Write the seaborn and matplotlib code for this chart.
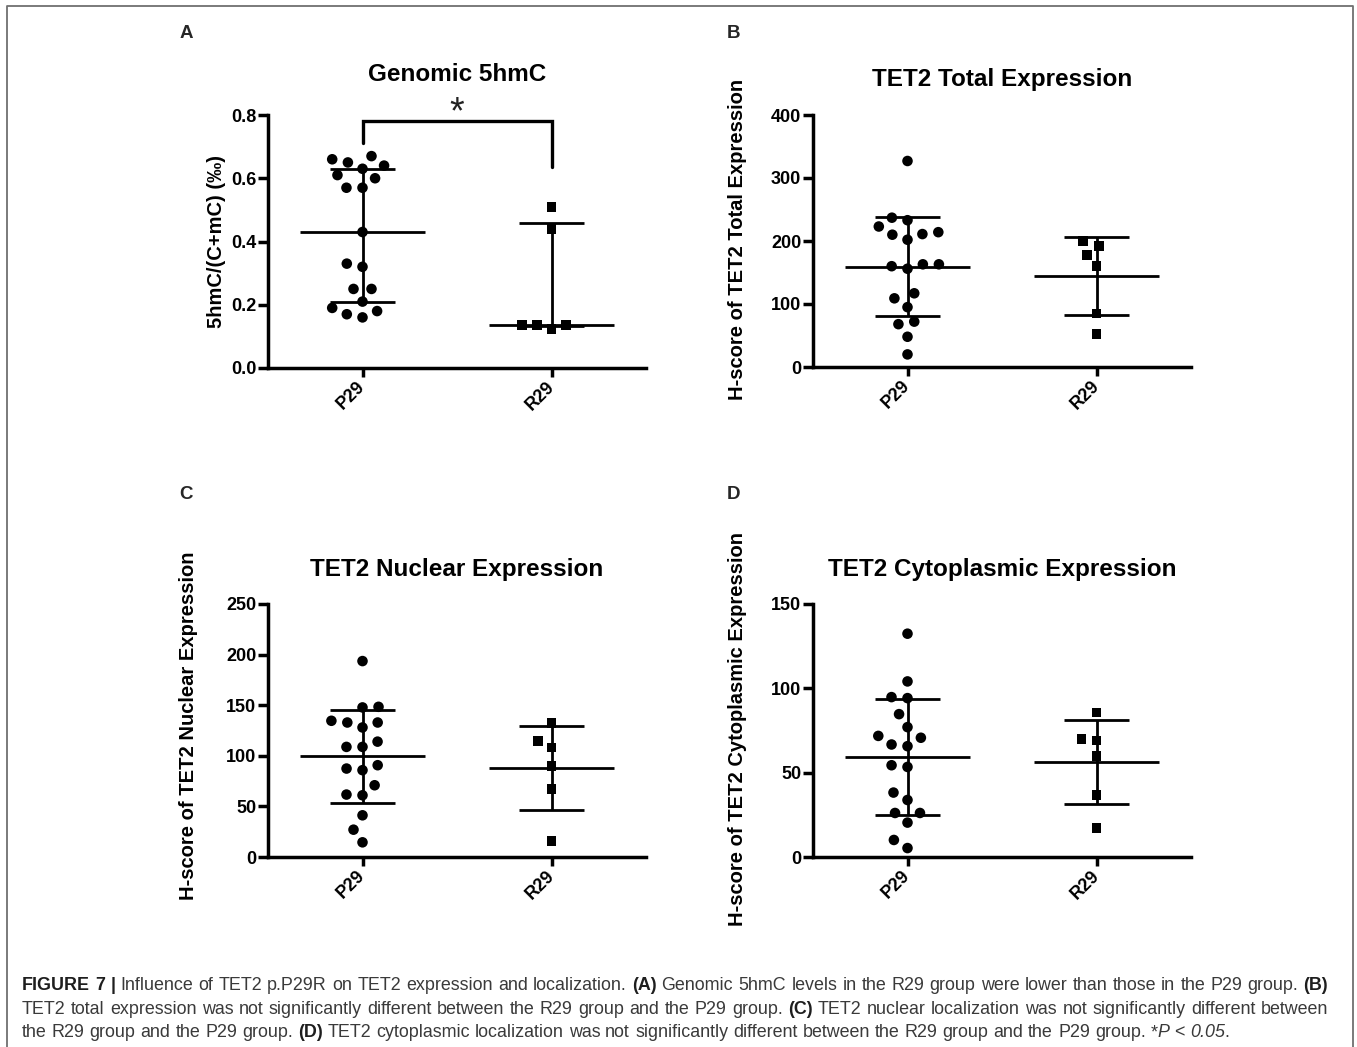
import numpy as np
import pandas as pd
import matplotlib
matplotlib.use("Agg")
import matplotlib.pyplot as plt
import seaborn as sns
from matplotlib.lines import Line2D
from matplotlib.ticker import FormatStrFormatter

# ---------------- data ----------------
groups = ["P29", "R29"]

hmc_p29 = [0.66, 0.64, 0.63, 0.65, 0.67, 0.60, 0.61, 0.57, 0.57, 0.43,
           0.32, 0.33, 0.25, 0.25, 0.21, 0.18, 0.19, 0.16, 0.17]
hmc_r29 = [0.51, 0.44, 0.137, 0.124, 0.137, 0.137]

total_p29 = [327, 237, 233, 223, 211, 202, 210, 214, 163, 160,
             156, 163, 117, 109, 95, 68, 72, 48, 20]
total_r29 = [200, 192, 178, 160, 85, 52]

nuclear_p29 = [193.6, 147.8, 148.4, 134.6, 132.9, 128, 132.9, 114, 108.8, 108.8,
               87.4, 85.8, 90.7, 70.9, 61, 61.7, 41.2, 27, 14.5]
nuclear_r29 = [132.6, 114.4, 108.2, 89.7, 67.3, 15.5]

cyto_p29 = [132.4, 104.1, 94.2, 94.8, 84.7, 77, 70.7, 71.8, 65.7, 66.7,
            54.4, 53.4, 38.2, 33.8, 26.1, 26.1, 20.4, 10.1, 5.3]
cyto_r29 = [85.7, 69.9, 69.1, 59.8, 36.6, 17.4]

titles = ["Genomic 5hmC", "TET2 Total Expression",
          "TET2 Nuclear Expression", "TET2 Cytoplasmic Expression"]
ylabels = ["5hmC/(C+mC) (‰)", "H-score of TET2 Total Expression",
           "H-score of TET2 Nuclear Expression", "H-score of TET2 Cytoplasmic Expression"]
panel_letters = ["A", "B", "C", "D"]
y_max = [0.8, 400, 250, 150]
y_step = [0.2, 100, 50, 50]
y_fmt = ["%.1f", "%d", "%d", "%d"]
summary_kind = ["median_iqr", "mean_sd", "mean_sd", "mean_sd"]
sig_label = "*"

caption_lines = [
    [("FIGURE 7 |", "b"), (" Influence of TET2 p.P29R on TET2 expression and localization. ", "n"),
     ("(A)", "b"), (" Genomic 5hmC levels in the R29 group were lower than those in the P29 group. ", "n"),
     ("(B)", "b")],
    [("TET2 total expression was not significantly different between the R29 group and the P29 group. ", "n"),
     ("(C)", "b"), (" TET2 nuclear localization was not significantly different between", "n")],
    [("the R29 group and the P29 group. ", "n"), ("(D)", "b"),
     (" TET2 cytoplasmic localization was not significantly different between the R29 group and the P29 group. *", "n"),
     ("P", "i"), (" < ", "n"), ("0.05", "i"), (".", "n")],
]

# ---------------- style ----------------
sns.set_style("ticks")
plt.rcParams["font.family"] = ["Liberation Sans", "DejaVu Sans"]

W, H = 1357, 1047
fig = plt.figure(figsize=(W / 100, H / 100), dpi=100)
fig.patch.set_facecolor("white")

# axes boxes in pixels: left, top(ymax), right, bottom(0)
boxes = [(268, 115, 646, 368), (813, 115, 1191, 367),
         (268, 604, 646, 857), (813, 604, 1191, 857)]
title_pad = [24.5, 21, 20, 20]
ylabel_pos = [(-0.135, 0.5), (-0.201, 0.508), (-0.21, 0.52), (-0.201, 0.506)]
letter_pos = [(186, 33), (733, 33), (186, 495), (733, 495)]

data_sets = [(hmc_p29, hmc_r29), (total_p29, total_r29),
             (nuclear_p29, nuclear_r29), (cyto_p29, cyto_r29)]


def summary(vals, kind):
    v = np.asarray(vals, dtype=float)
    if kind == "median_iqr":
        q1, mid, q3 = np.percentile(v, [25, 50, 75], method="weibull")
    else:
        mid = v.mean()
        sd = v.std(ddof=1)
        q1, q3 = mid - sd, mid + sd
    return mid, q1, q3


axes = []
for k in range(4):
    l, t, r, b = boxes[k]
    ax = fig.add_axes([l / W, 1 - b / H, (r - l) / W, (b - t) / H])
    axes.append(ax)
    p_vals, r_vals = data_sets[k]
    df = pd.DataFrame({"group": [groups[0]] * len(p_vals) + [groups[1]] * len(r_vals),
                       "value": list(p_vals) + list(r_vals)})
    sns.swarmplot(data=df[df.group == groups[0]], x="group", y="value", order=groups,
                  marker="o", size=7.6, color="black", linewidth=0, ax=ax, zorder=4)
    sns.swarmplot(data=df[df.group == groups[1]], x="group", y="value", order=groups,
                  marker="s", size=7.0, color="black", linewidth=0, ax=ax, zorder=4)
    for coll in list(ax.collections):
        if len(coll.get_offsets()) == 0:
            coll.remove()          # empty group collections
            continue
        coll.set_edgecolor("none")
        coll.set_linewidth(3.4)   # enlarges swarm spacing only (edge not drawn)
        coll.set_clip_on(False)

    for i, vals in enumerate((p_vals, r_vals)):
        mid, q1, q3 = summary(vals, summary_kind[k])
        ax.hlines(mid, i - 0.33, i + 0.33, color="black", lw=2.0, zorder=3, clip_on=False)
        ax.hlines([q1, q3], i - 0.17, i + 0.17, color="black", lw=2.0, zorder=3, clip_on=False)
        ax.vlines(i, q1, q3, color="black", lw=2.0, zorder=3, clip_on=False)

    ax.set_xlim(-0.5, 1.5)
    ax.set_ylim(0, y_max[k])
    ax.set_yticks(np.arange(0, y_max[k] + y_step[k] / 2, y_step[k]))
    ax.yaxis.set_major_formatter(FormatStrFormatter(y_fmt[k]))
    ax.set_xticks([0, 1])
    ax.set_xticklabels(groups, rotation=45, ha="right", va="center",
                       rotation_mode="anchor", fontweight="bold", fontsize=13)
    for lbl in ax.get_yticklabels():
        lbl.set_fontweight("bold")
        lbl.set_fontsize(13)
    sns.despine(ax=ax)
    for s in ("left", "bottom"):
        ax.spines[s].set_linewidth(2.5)
        ax.spines[s].set_color("black")
    ax.tick_params(axis="y", width=2.5, length=7, pad=1.5, colors="black")
    ax.tick_params(axis="x", width=2.5, length=6.5, pad=5, colors="black")
    ax.set_xlabel("")
    ax.set_ylabel(ylabels[k], fontsize=14.5, fontweight="bold", color="black")
    ax.yaxis.label.set_verticalalignment("center")
    ax.yaxis.set_label_coords(*ylabel_pos[k])
    ax.set_title(titles[k], fontsize=17.5, fontweight="bold", pad=title_pad[k], color="black")
    ax.set_facecolor("none")
    fig.text(letter_pos[k][0] / W, 1 - letter_pos[k][1] / H, panel_letters[k],
             fontsize=13.5, fontweight="bold", ha="center", va="center")

# significance bracket on panel A (heights)
axA = axes[0]
br_top, br_left, br_right = 0.782, 0.711, 0.634
axA.plot([0, 0, 1, 1], [br_left, br_top, br_top, br_right], color="black", lw=2.4,
         clip_on=False, solid_joinstyle="miter", zorder=3)
axA.annotate(sig_label, xy=(0.5, br_top), xytext=(0, -2), textcoords="offset points",
             ha="center", va="baseline", fontsize=27, fontweight="light",
             color="#222222", annotation_clip=False)

# figure frame (left, top and right sides)
fx0, fx1, fy0 = 7 / W, 1353 / W, 1 - 6 / H
fig.add_artist(Line2D([fx0, fx0, fx1, fx1], [0, fy0, fy0, 0], transform=fig.transFigure,
                      color="#707070", lw=1.3))

# ---------------- caption with mixed styles ----------------
renderer = fig.canvas.get_renderer()
styles = {"n": dict(fontweight="normal", fontstyle="normal", color="#3a3a3a"),
          "b": dict(fontweight="bold", fontstyle="normal", color="#1e1e1e"),
          "i": dict(fontweight="normal", fontstyle="italic", color="#3a3a3a")}


def split_words(runs):
    words = []
    new_word = True
    for txt, st in runs:
        parts = txt.split(" ")
        for j, p in enumerate(parts):
            if j > 0:
                new_word = True
            if p == "":
                continue
            if new_word or not words:
                words.append([(p, st)])
            else:
                words[-1].append((p, st))
            new_word = False
    return words


def measure(s, st, fs):
    t = fig.text(0.5, 0.5, s, fontsize=fs, family="Liberation Sans", **styles[st])
    w = t.get_window_extent(renderer).width
    t.remove()
    return w


def word_width(word, fs):
    return sum(measure(s, st, fs) for s, st in word)


def space_width(fs):
    return measure("a a", "n", fs) - measure("aa", "n", fs)


x_left, x_right = 22, 1328
base_fs = 12.0
w1 = sum(word_width(w, base_fs) for w in split_words(caption_lines[0]))
w1 += space_width(base_fs) * (len(split_words(caption_lines[0])) - 1)
cap_fs = base_fs * (x_right - x_left) / w1

baselines = [990, 1014, 1037]
for li, runs in enumerate(caption_lines):
    words = split_words(runs)
    widths = [word_width(w, cap_fs) for w in words]
    if li < 2:
        gap = (x_right - x_left - sum(widths)) / (len(words) - 1)
    else:
        gap = space_width(cap_fs)
    x = x_left
    for word, ww in zip(words, widths):
        xx = x
        for s, st in word:
            fig.text(xx / W, 1 - baselines[li] / H, s, fontsize=cap_fs,
                     family="Liberation Sans", ha="left", va="baseline", **styles[st])
            xx += measure(s, st, cap_fs)
        x += ww + gap

fig.savefig("out.png", dpi=100, facecolor="white")
